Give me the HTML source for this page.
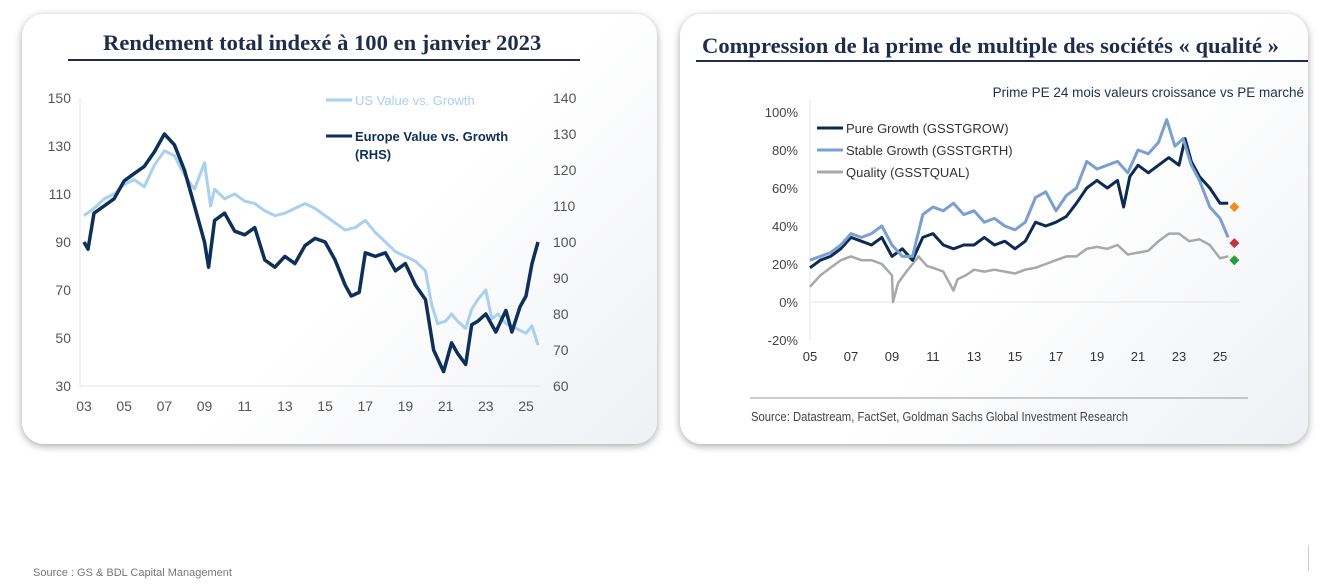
<!DOCTYPE html>
<html><head><meta charset="utf-8"><style>
body{margin:0;width:1327px;height:586px;background:#fff;overflow:hidden;font-family:"Liberation Sans",sans-serif;position:relative}
.card{position:absolute;background:linear-gradient(135deg,#fff 55%,#eef0f3);border-radius:22px;box-shadow:0 2px 8px rgba(0,0,0,.35)}
.title{position:absolute;font-family:"Liberation Serif",serif;font-weight:bold;color:#1f2d4d;font-size:22.6px;white-space:nowrap}
.rule{position:absolute;height:1.5px;background:#1f2d4d}
svg{position:absolute;left:0;top:0}
</style></head><body>
<div class="card" style="left:22px;top:14px;width:635px;height:430px"></div>
<div class="card" style="left:680px;top:14px;width:628px;height:430px"></div>
<div class="title" style="left:103px;top:30px">Rendement total indexé à 100 en janvier 2023</div>
<div class="rule" style="left:68px;top:59px;width:512px"></div>
<div class="title" style="left:702px;top:33px">Compression de la prime de multiple des sociétés « qualité »</div>
<div class="rule" style="left:696px;top:60px;width:612px"></div>
<div style="position:absolute;left:33px;top:567px;font-size:11px;color:#777">Source : GS &amp; BDL Capital Management</div>
<div style="position:absolute;left:1308px;top:545px;width:1px;height:26px;background:#ccc"></div>
<svg id="s" width="1327" height="586"></svg>
<script>
// Left chart data
const usYears=[2003,2003.5,2004,2004.5,2005,2005.5,2006,2006.5,2007,2007.5,2008,2008.5,2009,2009.3,2009.5,2010,2010.5,2011,2011.5,2012,2012.5,2013,2013.5,2014,2014.5,2015,2015.5,2016,2016.5,2017,2017.5,2018,2018.5,2019,2019.5,2020,2020.3,2020.6,2021,2021.3,2021.6,2022,2022.3,2022.6,2023,2023.3,2023.6,2024,2024.5,2025,2025.3,2025.6];
const usValues=[101,104,108,110,114,116,113,122,128,126,118,112,123,105,112,108,110,107,106,103,101,102,104,106,104,101,98,95,96,99,94,90,86,84,82,78,64,56,57,60,57,54,62,66,70,58,60,56,54,52,55,47];
const euYears=[2003,2003.2,2003.5,2004,2004.5,2005,2005.5,2006,2006.5,2007,2007.5,2008,2008.5,2009,2009.2,2009.5,2010,2010.5,2011,2011.5,2012,2012.5,2013,2013.5,2014,2014.5,2015,2015.5,2016,2016.3,2016.7,2017,2017.5,2018,2018.5,2019,2019.5,2020,2020.4,2020.9,2021.3,2021.6,2022,2022.3,2022.6,2023,2023.5,2024,2024.3,2024.7,2025,2025.3,2025.6];
const euValues=[100,98,108,110,112,117,119,121,125,130,127,120,110,100,93,106,108,103,102,104,95,93,96,94,99,101,100,95,88,85,86,97,96,97,92,94,88,84,70,64,72,69,66,77,78,80,75,81,75,82,85,94,100];
const leftTicks=[150,130,110,90,70,50,30];
const rightTicks=[140,130,120,110,100,90,80,70,60];
const xTicksL=['03','05','07','09','11','13','15','17','19','21','23','25'];
// Right chart data
const rYears=[2005,2005.5,2006,2006.5,2007,2007.5,2008,2008.5,2009,2009.5,2010,2010.5,2011,2011.5,2012,2012.5,2013,2013.5,2014,2014.5,2015,2015.5,2016,2016.5,2017,2017.5,2018,2018.5,2019,2019.5,2020,2020.3,2020.6,2021,2021.5,2022,2022.5,2023,2023.3,2023.6,2024,2024.5,2025,2025.4];
const pureValues=[18,22,24,28,34,32,30,34,24,28,22,34,36,30,28,30,30,34,30,32,28,32,42,40,42,45,52,60,64,60,64,50,66,72,68,72,76,72,86,74,66,60,52,52];
const sYears=[2005,2005.5,2006,2006.5,2007,2007.5,2008,2008.5,2009,2009.5,2010,2010.5,2011,2011.5,2012,2012.5,2013,2013.5,2014,2014.5,2015,2015.5,2016,2016.5,2017,2017.5,2018,2018.5,2019,2019.5,2020,2020.5,2021,2021.5,2022,2022.4,2022.8,2023.2,2023.6,2024,2024.5,2025,2025.4];
const stableValues=[22,24,26,30,36,34,36,40,30,24,24,46,50,48,52,46,48,42,44,40,38,42,55,58,48,56,60,74,70,72,74,68,80,78,84,96,82,86,72,64,50,44,34];
const qYears=[2005,2005.5,2006,2006.5,2007,2007.5,2008,2008.5,2009,2009.05,2009.3,2009.7,2010,2010.3,2010.7,2011,2011.5,2012,2012.2,2012.6,2013,2013.5,2014,2014.5,2015,2015.5,2016,2016.5,2017,2017.5,2018,2018.5,2019,2019.5,2020,2020.5,2021,2021.5,2022,2022.5,2023,2023.5,2024,2024.5,2025,2025.4];
const qualityValues=[8,14,18,22,24,22,22,20,14,0,10,16,20,24,19,18,16,6,12,14,17,16,17,16,15,17,18,20,22,24,24,28,29,28,30,25,26,27,32,36,36,32,33,30,23,24];
const markerValues=[50,31,22];
const markerColors=['#f28a1c','#c8323a','#2a9a3a'];
const pctTicks=[100,80,60,40,20,0,-20];
const xTicksR=['05','07','09','11','13','15','17','19','21','23','25'];

const S=document.getElementById('s');const NS='http://www.w3.org/2000/svg';
function el(t,a,txt){const e=document.createElementNS(NS,t);for(const k in a)e.setAttribute(k,a[k]);if(txt!=null)e.textContent=txt;S.appendChild(e);return e;}
const lx=y=>84+(y-2003)*20.09, ly=v=>98+(150-v)*2.4, ry=v=>98+(140-v)*3.6;
const rx=y=>810+(y-2005)*20.5, py=v=>302-v*1.9;

let e;
e=el('line',{x1:80,y1:98,x2:80,y2:386,stroke:'#e4e4e4'});
e=el('line',{x1:80,y1:386,x2:540,y2:386,stroke:'#e4e4e4'});
leftTicks.forEach(v=>{e=el('text',{x:71,y:ly(v)+5,'text-anchor':'end','font-size':14,fill:'#555'},v);});
rightTicks.forEach(v=>{e=el('text',{x:553,y:ry(v)+5,'font-size':14,fill:'#555'},v);});
xTicksL.forEach((t,i)=>{e=el('text',{x:lx(2003+2*i),y:411,'text-anchor':'middle','font-size':14,fill:'#555'},t);});
function path(xs,vs,fx,fy){return xs.map((x,i)=>(i?'L':'M')+fx(x).toFixed(1)+','+fy(vs[i]).toFixed(1)).join('');}
e=el('path',{d:path(usYears,usValues,lx,ly),fill:'none',stroke:'#a9d0ee','stroke-width':3,'stroke-linejoin':'round'});
e=el('path',{d:path(euYears,euValues,lx,ry),fill:'none',stroke:'#0d2f5a','stroke-width':3.5,'stroke-linejoin':'round'});
e=el('line',{x1:326,y1:100,x2:352,y2:100,stroke:'#a9d0ee','stroke-width':3});
e=el('text',{x:355,y:105,'font-size':13,fill:'#a9d0ee'},'US Value vs. Growth');
e=el('line',{x1:326,y1:136,x2:352,y2:136,stroke:'#0d2f5a','stroke-width':3});
e=el('text',{x:355,y:141,'font-size':13,'font-weight':'bold',fill:'#0d2f5a'},'Europe Value vs. Growth');
e=el('text',{x:355,y:159,'font-size':13,'font-weight':'bold',fill:'#0d2f5a'},'(RHS)');

e=el('text',{x:1304,y:97,'text-anchor':'end','font-size':13.5,fill:'#1f3050'},'Prime PE 24 mois valeurs croissance vs PE marché');
e=el('line',{x1:810,y1:100,x2:810,y2:340,stroke:'#e4e4e4'});
e=el('line',{x1:810,y1:py(0),x2:1240,y2:py(0),stroke:'#e4e4e4'});
pctTicks.forEach(v=>{e=el('text',{x:798,y:py(v)+5,'text-anchor':'end','font-size':13,fill:'#444'},v+'%');});
xTicksR.forEach((t,i)=>{e=el('text',{x:rx(2005+2*i),y:361,'text-anchor':'middle','font-size':13,fill:'#333'},t);});
e=el('path',{d:path(qYears,qualityValues,rx,py),fill:'none',stroke:'#a8a8a8','stroke-width':2.5,'stroke-linejoin':'round'});
e=el('path',{d:path(rYears,pureValues,rx,py),fill:'none',stroke:'#0c2a52','stroke-width':3,'stroke-linejoin':'round'});
e=el('path',{d:path(sYears,stableValues,rx,py),fill:'none',stroke:'#7a9fd0','stroke-width':3,'stroke-linejoin':'round'});
markerValues.forEach((v,i)=>{const x=rx(2025.7),y=py(v);e=el('path',{d:`M${x},${y-5}L${x+5},${y}L${x},${y+5}L${x-5},${y}Z`,fill:markerColors[i]});});
const leg=[['Pure Growth (GSSTGROW)','#0c2a52',128],['Stable Growth (GSSTGRTH)','#7a9fd0',150],['Quality (GSSTQUAL)','#a8a8a8',172]];
leg.forEach(l=>{e=el('line',{x1:817,y1:l[2],x2:843,y2:l[2],stroke:l[1],'stroke-width':3});
e=el('text',{x:846,y:l[2]+5,'font-size':13,fill:'#333'},l[0]);});
e=el('line',{x1:750,y1:398,x2:1248,y2:398,stroke:'#999'});
e=el('text',{x:751,y:421,'font-size':13,fill:'#444',textLength:377,lengthAdjust:'spacingAndGlyphs'},'Source: Datastream, FactSet, Goldman Sachs Global Investment Research');
</script>
</body></html>
